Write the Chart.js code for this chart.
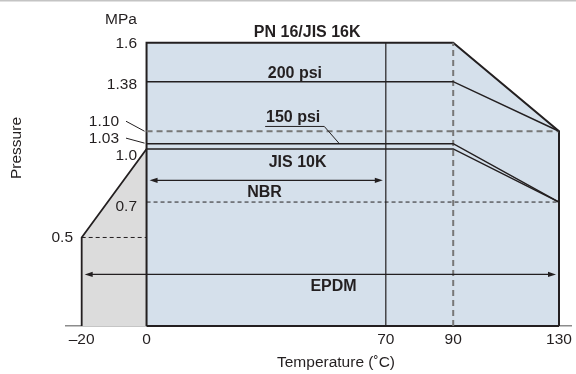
<!DOCTYPE html>
<html>
<head>
<meta charset="utf-8">
<script src="https://cdn.jsdelivr.net/npm/chart.js@4/dist/chart.umd.min.js"></script>
<style>
  html, body { margin: 0; padding: 0; background: #ffffff; }
  #wrap { width: 576px; height: 374px; position: relative; }
</style>
</head>
<body>
<div id="wrap"><canvas id="chart" width="576" height="374"></canvas></div>
<script>
// ===========================
// Data
// ===========================

const xTicks = [-20, 0, 70, 90, 130];
const xTickLabels = ["\u201320", "0", "70", "90", "130"];

const yTicks = [1.6, 1.38, 1.10, 1.03, 1.0, 0.7, 0.5];
const yTickLabels = ["1.6", "1.38", "1.10", "1.03", "1.0", "0.7", "0.5"];

// ratings: flat to 90 C, then derated to 130 C
const ratingTemps = [0, 90, 130];
const pn16 = [1.6, 1.6, 1.10];
const psi200 = [1.38, 1.38, 1.10];
const psi150 = [1.03, 1.03, 0.70];
const jis10k = [1.0, 1.0, 0.70];

// low temperature extension (-20 .. 0)
const lowTemps = [-20, -20, 0];
const lowPressure = [0, 0.5, 1.0];

const refTemps = [0, 130];
const refHigh = [1.10, 1.10];
const refLow = [0.7, 0.7];
const refColdTemps = [-20, 0];
const refCold = [0.5, 0.5];

const nbrMaxTemp = 70;
const derateTemp = 90;

// temperature ranges of the seal materials
const nbrRange = [0, 70];
const nbrLevel = 0.823;
const epdmRange = [-20, 130];
const epdmLevel = 0.291;

// ===========================
// Helpers / layout
// ===========================

const toXY = (xs, ys) => xs.map((x, i) => ({ x: x, y: ys[i] }));

const ink = "#231f20";
const blueFill = "#d5e0eb";
const greyFill = "#dcdcdc";
const dashGrey = "#777777";
const FONT = '"Liberation Sans", Arial, sans-serif';

// the drawing's temperature axis is not to scale: piecewise mapping
const knotTemps = [-25, -20, 0, 70, 90, 130, 135];
const knotFracs = [0, 0.031, 0.1592, 0.6321, 0.7653, 0.9744, 1];

class PiecewiseScale extends Chart.LinearScale {
  getPixelForValue(value) {
    if (value === null || value === undefined) return NaN;
    let i = 0;
    while (i < knotTemps.length - 2 && value > knotTemps[i + 1]) i++;
    const t = (value - knotTemps[i]) / (knotTemps[i + 1] - knotTemps[i]);
    return this.getPixelForDecimal(knotFracs[i] + t * (knotFracs[i + 1] - knotFracs[i]));
  }
  getValueForPixel(pixel) {
    const d = this.getDecimalForPixel(pixel);
    let i = 0;
    while (i < knotFracs.length - 2 && d > knotFracs[i + 1]) i++;
    const t = (d - knotFracs[i]) / (knotFracs[i + 1] - knotFracs[i]);
    return knotTemps[i] + t * (knotTemps[i + 1] - knotTemps[i]);
  }
}
PiecewiseScale.id = "piecewise";
PiecewiseScale.defaults = Chart.LinearScale.defaults;
Chart.register(PiecewiseScale);

// label placement (data coordinates)
const notes = [
  { text: "PN 16/JIS 16K", x: 47, y: 1.658 },
  { text: "200 psi", x: 43.4, y: 1.426 },
  { text: "150 psi", x: 42.9, y: 1.179 },
  { text: "JIS 10K", x: 44.2, y: 0.923 },
  { text: "NBR", x: 34.5, y: 0.752 },
  { text: "EPDM", x: 54.7, y: 0.223 },
];

// pixel nudges for the crowded pressure labels
const yLabelNudge = [1, 3, -10, -5, 6.5, 4.5, 0];
const yLabelRight = [137, 137, 119, 119, 137, 137, 73];

function line(ctx, x1, y1, x2, y2) {
  ctx.beginPath();
  ctx.moveTo(x1, y1);
  ctx.lineTo(x2, y2);
  ctx.stroke();
}

function arrowHead(ctx, tipX, y, dir) {
  ctx.beginPath();
  ctx.moveTo(tipX, y);
  ctx.lineTo(tipX - dir * 8, y - 2.6);
  ctx.lineTo(tipX - dir * 8, y + 2.6);
  ctx.closePath();
  ctx.fill();
}

const decorPlugin = {
  id: "decor",
  beforeDraw(chart) {
    const ctx = chart.ctx;
    ctx.save();
    ctx.fillStyle = "#c4c4c4";
    ctx.fillRect(0, 0, chart.width, 1.5);
    ctx.restore();
  },
  afterDatasetsDraw(chart) {
    const ctx = chart.ctx;
    const xs = chart.scales.x;
    const ys = chart.scales.y;
    const px = (v) => xs.getPixelForValue(v);
    const py = (v) => ys.getPixelForValue(v);

    ctx.save();
    ctx.strokeStyle = ink;
    ctx.fillStyle = ink;

    // arrows
    ctx.lineWidth = 1.3;
    [[nbrRange, nbrLevel], [epdmRange, epdmLevel]].forEach(([r, lv]) => {
      const a = px(r[0]) + 3;
      const b = px(r[1]) - 3;
      const y = py(lv);
      line(ctx, a + 4, y, b - 4, y);
      arrowHead(ctx, a, y, -1);
      arrowHead(ctx, b, y, 1);
    });

    // bold labels
    ctx.font = "bold 16px " + FONT;
    ctx.textAlign = "center";
    ctx.textBaseline = "middle";
    notes.forEach((n) => ctx.fillText(n.text, px(n.x), py(n.y)));

    // 150 psi underline + leader
    ctx.lineWidth = 1;
    const uy = py(1.127);
    ctx.beginPath();
    ctx.moveTo(px(34.7), uy);
    ctx.lineTo(px(52), uy);
    ctx.lineTo(px(56.4), py(psi150[0]));
    ctx.stroke();

    // pressure labels
    ctx.font = "15.5px " + FONT;
    ctx.textAlign = "right";
    yTicks.forEach((v, i) => {
      ctx.fillText(yTickLabels[i], yLabelRight[i], py(v) + yLabelNudge[i]);
    });
    // leaders for 1.10 and 1.03
    line(ctx, 126, py(1.10) - 10, px(0) - 2, py(1.10));
    line(ctx, 126, py(1.03) - 5.5, px(0) - 2, py(1.03) - 0.5);

    // unit + axis titles
    ctx.textAlign = "center";
    ctx.fillText("MPa", 121, 20);
    ctx.fillText("Temperature (\u02daC)", 336, 363);
    ctx.translate(17, 148);
    ctx.rotate(-Math.PI / 2);
    ctx.fillText("Pressure", 0, 0);
    ctx.restore();
  },
};

// ===========================
// Datasets
// ===========================

const base = {
  pointRadius: 0,
  tension: 0,
  fill: false,
  borderColor: ink,
  borderWidth: 1.5,
  borderJoinStyle: "miter",
  clip: false,
};

const datasets = [
  { ...base, data: toXY(ratingTemps, psi200), order: 1 },
  { ...base, data: toXY(ratingTemps, psi150), order: 1 },
  { ...base, data: toXY(ratingTemps, jis10k), order: 1 },
  { ...base, data: toXY([nbrMaxTemp, nbrMaxTemp], [0, 1.6]), borderWidth: 1.2, order: 2 },
  { ...base, data: toXY([derateTemp, derateTemp], [0, 1.6]), borderColor: dashGrey, borderWidth: 2, borderDash: [6, 4], order: 3 },
  { ...base, data: toXY(refTemps, refHigh), borderColor: dashGrey, borderWidth: 2, borderDash: [6, 4], order: 3 },
  { ...base, data: toXY(refTemps, refLow), borderWidth: 1, borderDash: [4, 3], order: 3 },
  { ...base, data: toXY(refColdTemps, refCold), borderWidth: 1, borderDash: [4, 3], order: 3 },
  // bottom edge of the rated area
  { ...base, data: toXY([0, 130], [0, 0]), borderWidth: 2, order: 4 },
  {
    ...base,
    data: [{ x: 0, y: 0 }, ...toXY(ratingTemps, pn16), { x: 130, y: 0 }],
    fill: "origin",
    backgroundColor: blueFill,
    borderWidth: 2,
    order: 8,
  },
  {
    ...base,
    data: toXY(lowTemps, lowPressure),
    fill: "origin",
    backgroundColor: greyFill,
    borderWidth: 1.8,
    order: 9,
  },
];

Chart.defaults.font.family = FONT;
Chart.defaults.color = ink;

new Chart(document.getElementById("chart").getContext("2d"), {
  type: "line",
  data: { datasets: datasets },
  options: {
    responsive: false,
    animation: false,
    events: [],
    layout: { padding: { left: 66, right: 2.7, top: 42.7, bottom: 21.4 } },
    plugins: { legend: { display: false }, tooltip: { enabled: false } },
    scales: {
      x: {
        type: "piecewise",
        min: -25,
        max: 135,
        grid: { display: false, drawTicks: false },
        border: { display: true, color: "#8c8c8c", width: 1.5 },
        afterBuildTicks: (s) => { s.ticks = xTicks.map((v) => ({ value: v })); },
        ticks: {
          autoSkip: false,
          maxRotation: 0,
          padding: 4,
          color: ink,
          font: { size: 15.5 },
          callback: (v, i) => xTickLabels[i],
        },
      },
      y: { type: "linear", display: false, min: 0, max: 1.6 },
    },
  },
  plugins: [decorPlugin],
});
</script>
</body>
</html>
